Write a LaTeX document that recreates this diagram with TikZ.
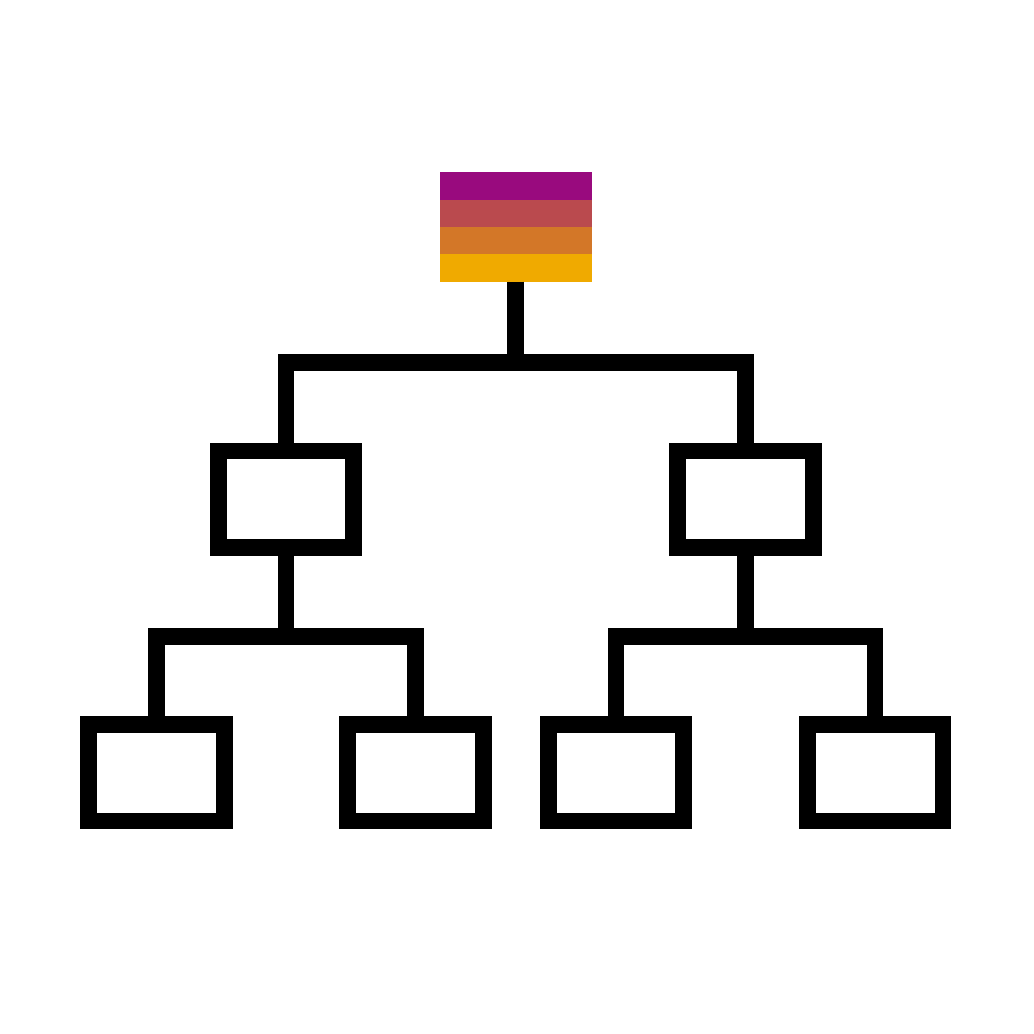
\documentclass[tikz,border=0pt]{standalone}
\usepackage{tikz}

\definecolor{stripeA}{RGB}{153,10,126}
\definecolor{stripeB}{RGB}{186,74,78}
\definecolor{stripeC}{RGB}{211,119,40}
\definecolor{stripeD}{RGB}{240,170,0}

\begin{document}
\begin{tikzpicture}[
            x=0.01cm, y=-0.01cm,
            line width=0.166cm,
            line join=miter,
            box/.style={draw, rectangle, inner sep=0, minimum width=1.355cm, minimum height=0.965cm},
            head/.style={rectangle, inner sep=0, outer sep=0, minimum width=1.52cm, minimum height=1.094cm}
        ]
            \useasboundingbox (0, 0) rectangle (1034, 1034);

            % top box
            \node[head] (root) at (515.7, 227) {};
            \foreach \c [count=\i from 0] in {stripeA,stripeB,stripeC,stripeD} {
                \fill[\c] ([yshift={-0.2735cm*\i}]root.north west) rectangle ++(152, 27.35);
            }

            % boxes
            \node[box] (m1) at (286, 499.3) {};
            \node[box] (m2) at (745.5, 499.3) {};
            \node[box] (b1) at (156.5, 772.7) {};
            \node[box] (b2) at (415.5, 772.7) {};
            \node[box] (b3) at (616, 772.7) {};
            \node[box] (b4) at (875, 772.7) {};

            \coordinate (j0) at (515.7, 362.7);
            \coordinate (j1) at (286, 636.5);
            \coordinate (j2) at (745.5, 636.5);

            % wires
            \draw (root.south) -- (j0);
            \draw (m1.north) -- (m1.north |- j0) -- (m2.north |- j0) -- (m2.north);
            \draw (m1.south) -- (j1);
            \draw (m2.south) -- (j2);
            \foreach \j/\a/\b in {j1/b1/b2, j2/b3/b4} {
                \draw (\a.north) -- (\a.north |- \j) -- (\b.north |- \j) -- (\b.north);
            }
        \end{tikzpicture}
\end{document}
